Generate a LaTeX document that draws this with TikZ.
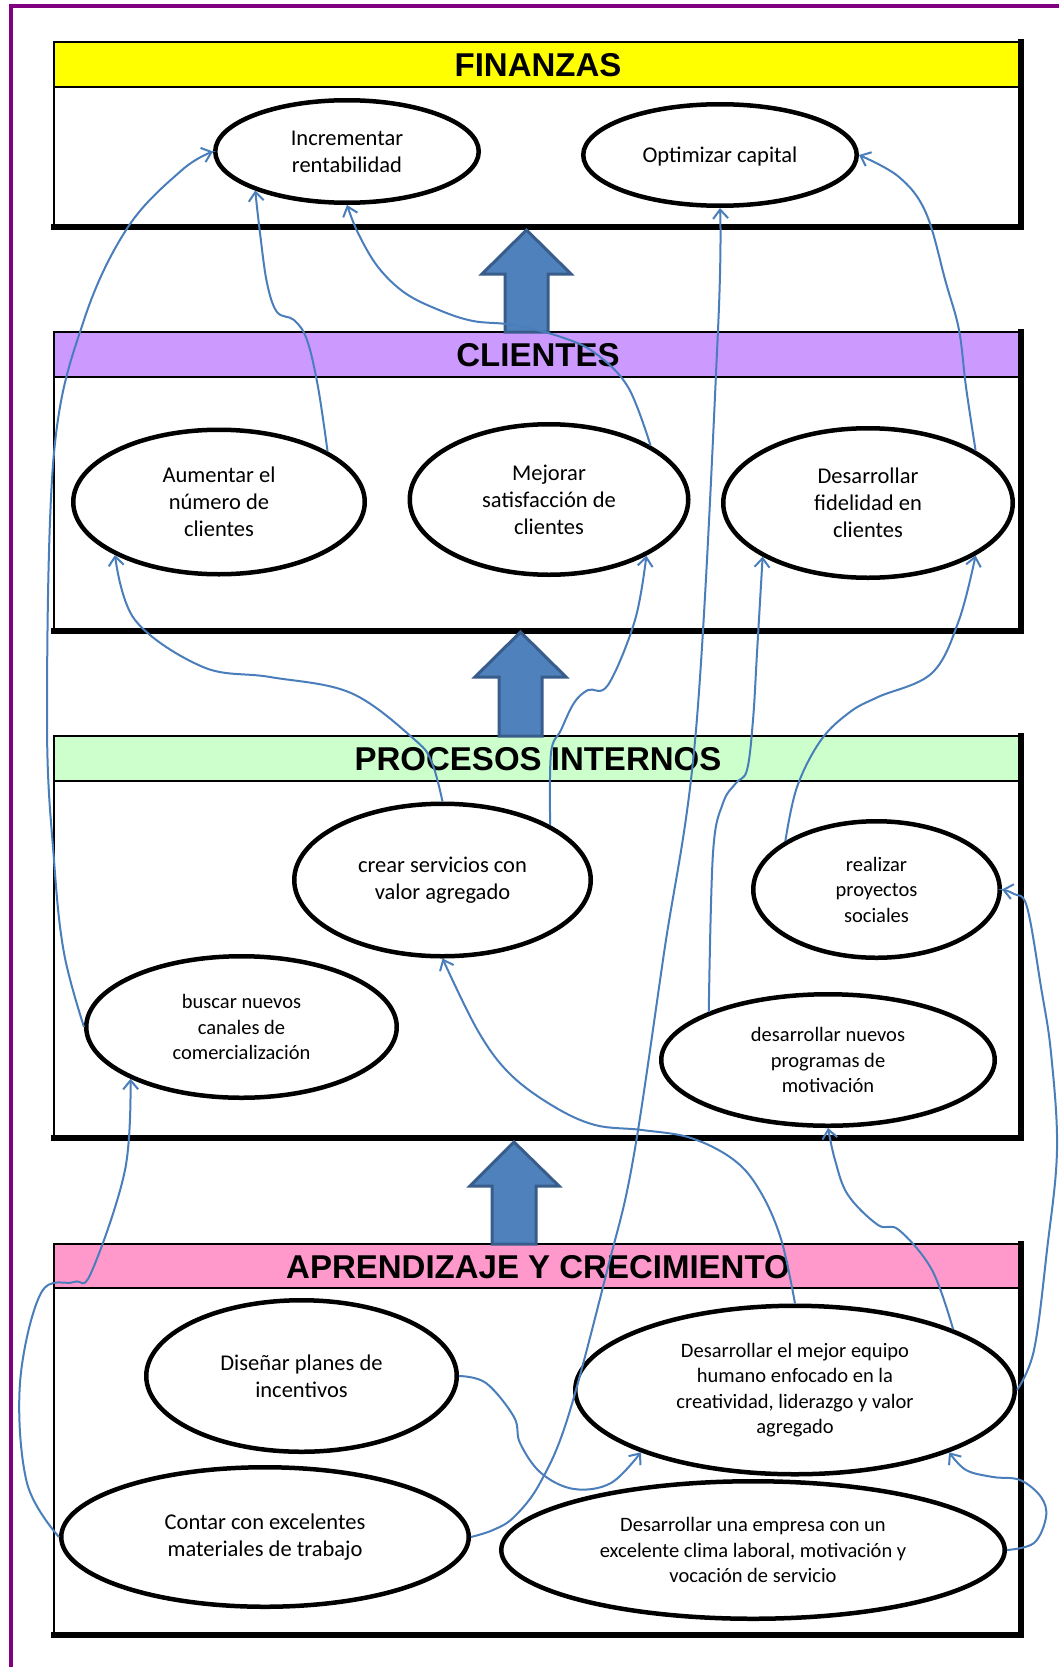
\documentclass[tikz,border=0pt]{standalone}
\usepackage{fontspec}
\setmainfont{Carlito}
\newfontfamily\headfont{Liberation Sans}
\usetikzlibrary{shapes.geometric,arrows.meta}

\definecolor{framepurple}{HTML}{800080}
\definecolor{finyellow}{HTML}{FFFF00}
\definecolor{clilav}{HTML}{CC99FF}
\definecolor{progreen}{HTML}{CCFFCC}
\definecolor{aprpink}{HTML}{FF99CC}
\definecolor{linkblue}{HTML}{4A7EBB}
\definecolor{blockfill}{HTML}{4F81BD}
\definecolor{blockedge}{HTML}{385D8A}

\tikzset{
  goal/.style={ellipse, draw=black, line width=4.5pt, fill=white, inner sep=0pt,
    align=center, font=\fontsize{22.5}{27}\selectfont},
  goalsmall/.style={goal, font=\fontsize{20.5}{25.5}\selectfont},
  link/.style={draw=linkblue, line width=2pt,
    -{Straight Barb[length=9pt,width=15pt,line width=2pt]}},
  blockarrow/.style={fill=blockfill, draw=blockedge, line width=3pt, line join=miter},
  paneltitle/.style={anchor=base, font=\headfont\bfseries\fontsize{33}{40}\selectfont},
  panelframe/.style={draw=black, line width=2.5pt, fill=white},
  panelshadow/.style={draw=black, line width=6pt},
}

% one perspective panel: #1 top, #2 header bottom, #3 bottom, #4 header colour
\newcommand{\perspectivepanel}[4]{%
  \filldraw[panelframe] (54,#1) rectangle (1021,#3);
  \filldraw[panelframe, fill=#4] (54,#1) rectangle (1021,#2);
  \draw[panelshadow, line cap=rect] (1021,#1) -- (1021,#3) -- (54,#3);
}

\begin{document}
\begin{tikzpicture}[x=1pt, y=-1pt]
\useasboundingbox (0,0) rectangle (1059,1667);
\fill[white] (0,0) rectangle (1059,1667);

% outer page frame
\draw[framepurple, line width=4.5pt] (11,1667) -- (11,6) -- (1059,6);

% the four perspectives
\perspectivepanel{42}{87}{227}{finyellow}
\perspectivepanel{332}{377}{631}{clilav}
\perspectivepanel{736}{781}{1138}{progreen}
\perspectivepanel{1244}{1288}{1635}{aprpink}

\node[paneltitle] (tfin) at (538,76.5) {FINANZAS};
\node[paneltitle] (tcli) at (538,366.5) {CLIENTES};
\node[paneltitle] (tpro) at (538,770.5) {PROCESOS INTERNOS};
\node[paneltitle] (tapr) at (538,1278) {APRENDIZAJE Y CRECIMIENTO};

% upward block arrows between perspectives
\filldraw[blockarrow] (505,332) -- (505,274) -- (482,274) -- (526.5,230) -- (571,274) -- (548,274) -- (548,332) -- cycle;
\filldraw[blockarrow] (499,736) -- (499,677) -- (475,677) -- (520.5,632) -- (566,677) -- (542,677) -- (542,736) -- cycle;
\filldraw[blockarrow] (492,1244) -- (492,1186) -- (470,1186) -- (514,1142) -- (559,1186) -- (536,1186) -- (536,1244) -- cycle;

% objectives
\node[goal, minimum width=263.5pt, minimum height=102.5pt] (inc) at (347,151.5) {Incrementar\\rentabilidad};
\node[goal, minimum width=273.5pt, minimum height=101.5pt] (opt) at (720,155) {\smash{\raisebox{-7pt}{Optimizar capital}}};

\node[goal, minimum width=291.5pt, minimum height=144.5pt] (aum) at (219,502) {Aumentar el\\número de\\clientes};
\node[goal, minimum width=278.5pt, minimum height=150.5pt] (mej) at (549,499.5) {Mejorar\\satisfacción de\\clientes};
\node[goal, minimum width=289.5pt, minimum height=149.5pt] (fid) at (868,503) {Desarrollar\\fidelidad en\\clientes};

\node[goal, minimum width=296.5pt, minimum height=152.5pt] (cre) at (442.5,880) {crear servicios con\\valor agregado};
\node[goalsmall, minimum width=246.5pt, minimum height=136.5pt] (rea) at (876.5,889.5) {realizar\\proyectos\\sociales};
\node[goalsmall, minimum width=310.5pt, minimum height=141.5pt] (bus) at (241.5,1027) {buscar nuevos\\canales de\\comercialización};
\node[goalsmall, minimum width=333.5pt, minimum height=131.5pt] (prg) at (828,1060) {desarrollar nuevos\\programas de\\motivación};

\node[goal, minimum width=310.5pt, minimum height=151.5pt] (dis) at (301.5,1376) {Diseñar planes de\\incentivos};
\node[goalsmall, minimum width=439.5pt, minimum height=168.5pt] (equ) at (795,1390) {Desarrollar el mejor equipo\\humano enfocado en la\\creatividad, liderazgo y valor\\agregado};
\node[goal, minimum width=407.5pt, minimum height=139.5pt] (con) at (265,1537) {Contar con excelentes\\materiales de trabajo};
\node[goalsmall, minimum width=503.5pt, minimum height=137.5pt] (emp) at (753,1550) {Desarrollar una empresa con un\\excelente clima laboral, motivación y\\vocación de servicio};

% cause-effect links
\draw[link] plot[smooth, tension=0.6] coordinates {(bus.west) (64,953) (54,860) (47,720) (54,453) (84,320) (128,227) (182,170) (inc.west)};
\draw[link] plot[smooth, tension=0.6] coordinates {(aum.25) (318,387) (307,340) (294,320) (277,312) (267,283) (260,233) (inc.203)};
\draw[link] plot[smooth, tension=0.6] coordinates {(mej.28) (628,387) (595,353) (561,337) (514,325) (473,321) (439,310) (405,293) (378,267) (358,233) (inc.south)};
\draw[link] plot[smooth, tension=0.6] coordinates {(fid.26) (966,387) (959,330) (946,283) (926,213) (899,177) (opt.east)};
\draw[link] plot[smooth, tension=0.6] coordinates {(con.east) (493,1530) (514,1517) (540,1483) (568,1417) (608,1267) (633,1160) (664,953) (696,730) (718,330) (opt.south)};
\draw[link] plot[smooth, tension=0.6] coordinates {(equ.north) (781,1239) (760,1191) (734,1160) (691,1138) (642,1130) (595,1125) (553,1106) (510,1074) (478,1031) (cre.south)};
\draw[link] plot[smooth, tension=0.6] coordinates {(equ.21) (932,1270) (899,1230) (878,1225) (848,1195) (835,1160) (prg.south)};
\draw[link] plot[smooth, tension=0.6] coordinates {(equ.east) (1034,1350) (1047,1250) (1057,1150) (1051,1053) (1041,987) (1027,907) (1014,894) (rea.east)};
\draw[link] plot[smooth, tension=0.6] coordinates {(rea.152) (797,787) (821,740) (850,712) (878,697) (932,673) (959,620) (fid.334)};
\draw[link] plot[smooth, tension=0.6] coordinates {(prg.158) (713,853) (723,803) (736,783) (747,770) (753,720) (757,653) (fid.207)};
\draw[link] plot[smooth, tension=0.6] coordinates {(cre.27) (551,753) (561,730) (574,703) (588,690) (608,685) (635,620) (mej.330)};
\draw[link] plot[smooth, tension=0.6] coordinates {(cre.north) (432,763) (415,740) (351,693) (270,677) (203,667) (135,620) (aum.207)};
\draw[link] plot[smooth, tension=0.6] coordinates {(con.west) (27,1483) (20,1383) (41,1293) (74,1282) (91,1273) (125,1170) (bus.205)};
\draw[link] plot[smooth, tension=0.6] coordinates {(dis.east) (486,1383) (514,1417) (520,1443) (541,1473) (574,1489) (611,1483) (equ.202)};
\draw[link] plot[smooth, tension=0.6] coordinates {(emp.east) (1034,1543) (1046,1517) (1041,1497) (1020,1480) (993,1477) (966,1470) (equ.338)};
\end{tikzpicture}
\end{document}
